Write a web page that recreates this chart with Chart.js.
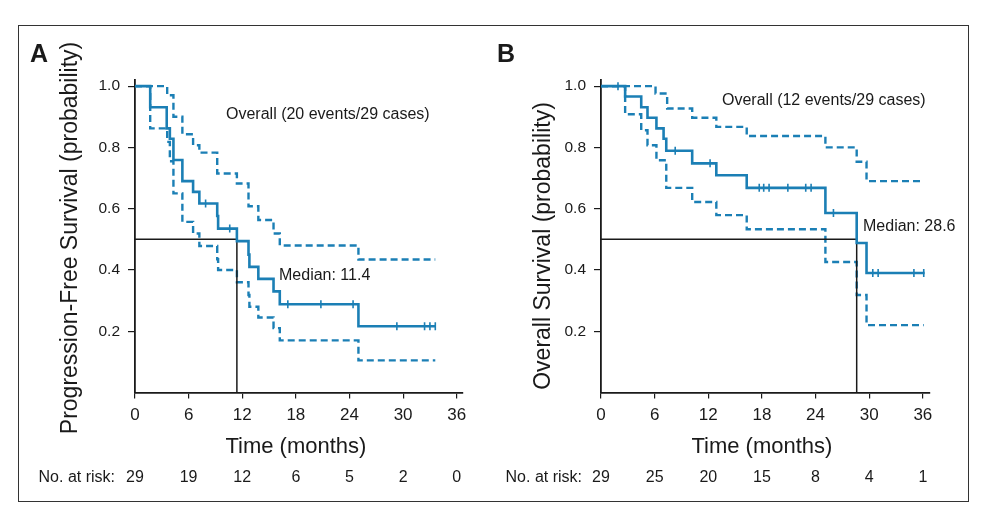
<!DOCTYPE html>
<html>
<head>
<meta charset="utf-8">
<script src="https://cdn.jsdelivr.net/npm/chart.js@4.4.1/dist/chart.umd.min.js"></script>
<style>
  html, body { margin: 0; padding: 0; background: #fff; }
  body { width: 993px; height: 521px; position: relative; overflow: hidden; }
  #frame { position: absolute; left: 18px; top: 25px; width: 951px; height: 477px; border: 1.5px solid #333; box-sizing: border-box; }
  canvas { position: absolute; top: 0; }
  #pfs { left: 0; }
  #os { left: 496px; }
</style>
</head>
<body>
<div id="frame"></div>
<canvas id="pfs" width="496" height="521"></canvas>
<canvas id="os" width="497" height="521"></canvas>
<script>
const blue = '#1b7fb5';
const ink = '#1a1a1a';
const sans = '"Liberation Sans", Arial, Helvetica, sans-serif';

const monthTicks = [0, 6, 12, 18, 24, 30, 36];
const probTicks = [0.2, 0.4, 0.6, 0.8, 1.0];

// Panel A - progression-free survival
const pfsTime = [0, 1.7, 3.55, 3.9, 4.3, 5.3, 6.5, 7.2, 9.2, 9.3, 11.4, 12.7, 12.8, 13.8, 15.5, 16.2, 25.0, 33.6];
const pfsSurv = [1, 0.931, 0.862, 0.828, 0.759, 0.690, 0.655, 0.617, 0.576, 0.535, 0.494, 0.450, 0.410, 0.371, 0.330, 0.288, 0.216, 0.216];
const pfsUpperTime = [0, 3.6, 4.3, 5.3, 6.5, 7.2, 9.2, 11.4, 12.7, 13.8, 15.5, 16.2, 25.0, 33.6];
const pfsUpper = [1, 0.97, 0.90, 0.843, 0.807, 0.783, 0.715, 0.682, 0.608, 0.563, 0.519, 0.48, 0.434, 0.434];
const pfsLowerTime = [0, 1.7, 3.6, 3.9, 4.3, 5.3, 6.5, 7.2, 9.2, 9.3, 11.4, 12.7, 12.8, 13.8, 15.5, 16.2, 25.0, 33.6];
const pfsLower = [1, 0.862, 0.818, 0.755, 0.65, 0.557, 0.519, 0.478, 0.435, 0.40, 0.36, 0.318, 0.28, 0.245, 0.21, 0.17, 0.105, 0.105];
const pfsCensored = [7.9, 10.6, 17.1, 20.8, 24.4, 29.3, 32.4, 33.0, 33.6];
const pfsMedian = 11.4;
const pfsAtRisk = [29, 19, 12, 6, 5, 2, 0];

// Panel B - overall survival
const osTime = [0, 2.7, 4.5, 5.2, 6.2, 7.0, 7.3, 10.2, 12.9, 16.3, 25.1, 28.6, 29.7, 36.2];
const osSurv = [1, 0.966, 0.931, 0.897, 0.862, 0.828, 0.789, 0.748, 0.709, 0.668, 0.586, 0.488, 0.390, 0.390];
const osUpperTime = [0, 6.1, 7.4, 10.2, 12.9, 16.3, 25.1, 28.6, 29.7, 36.1];
const osUpper = [1, 0.976, 0.927, 0.897, 0.867, 0.837, 0.80, 0.753, 0.69, 0.69];
const osLowerTime = [0, 2.7, 4.5, 5.2, 6.2, 7.3, 10.2, 12.9, 16.3, 25.1, 28.6, 29.7, 36.1];
const osLower = [1, 0.908, 0.856, 0.807, 0.758, 0.668, 0.622, 0.579, 0.533, 0.426, 0.318, 0.22, 0.22];
const osCensored = [1.9, 8.3, 12.2, 17.7, 18.2, 18.8, 20.9, 22.9, 23.5, 26.0, 30.4, 31.0, 35.0, 36.1];
const osMedian = 28.6;
const osAtRisk = [29, 25, 20, 15, 8, 4, 1];

const steps = (t, s) => t.map((v, i) => ({ x: v, y: s[i] }));
const survAt = (t, s, x) => {
  let y = s[0];
  t.forEach((v, i) => { if (v <= x) y = s[i]; });
  return y;
};

const panelText = {
  id: 'panelText',
  afterDraw(chart, args, o) {
    const ctx = chart.ctx;
    const xs = chart.scales.x;
    ctx.save();
    ctx.fillStyle = ink;
    ctx.textBaseline = 'alphabetic';

    ctx.font = 'bold 25px ' + sans;
    ctx.textAlign = 'left';
    ctx.fillText(o.letter, o.letterX, 62);

    ctx.save();
    ctx.translate(o.titleX, o.titleY);
    ctx.rotate(-Math.PI / 2);
    ctx.font = '23px ' + sans;
    ctx.textAlign = 'center';
    ctx.fillText(o.yTitle, 0, 0);
    ctx.restore();

    ctx.font = '16px ' + sans;
    ctx.textAlign = 'left';
    ctx.fillText(o.overall, o.overallX, o.overallY);
    ctx.fillText('Median: ' + o.median.toFixed(1), o.medianX, o.medianY);

    ctx.font = '22px ' + sans;
    ctx.textAlign = 'center';
    ctx.fillText('Time (months)', (xs.getPixelForValue(0) + xs.getPixelForValue(36)) / 2, 453);

    ctx.font = '16px ' + sans;
    ctx.textAlign = 'right';
    ctx.fillText('No. at risk:', o.riskX, 482);
    ctx.textAlign = 'center';
    o.atRisk.forEach((n, i) => ctx.fillText(String(n), xs.getPixelForValue(monthTicks[i]), 482));
    ctx.restore();
  }
};

function kmChart(id, d) {
  const canvas = document.getElementById(id);
  return new Chart(canvas, {
    type: 'line',
    data: {
      datasets: [
        { data: d.censored.map(t => ({ x: t, y: survAt(d.time, d.surv, t) })), showLine: false,
          pointStyle: 'line', rotation: 90, pointRadius: 4, pointBorderWidth: 1.6,
          pointBorderColor: blue, borderColor: blue, order: 0 },
        { data: steps(d.time, d.surv), stepped: true, borderColor: blue, borderWidth: 2.6, pointRadius: 0, order: 1 },
        { data: [{ x: 0, y: 0.5 }, { x: d.median, y: 0.5 }, { x: d.median, y: 0 }],
          borderColor: ink, borderWidth: 1.5, pointRadius: 0, order: 2 },
        { data: steps(d.upperTime, d.upper), stepped: true, borderColor: blue, borderWidth: 2.4,
          borderDash: [7, 4], pointRadius: 0, order: 3 },
        { data: steps(d.lowerTime, d.lower), stepped: true, borderColor: blue, borderWidth: 2.4,
          borderDash: [7, 4], pointRadius: 0, order: 3 }
      ]
    },
    options: {
      responsive: false,
      animation: false,
      devicePixelRatio: 1,
      layout: { padding: { top: 80, left: 0, bottom: 0, right: canvas.width - d.areaRight } },
      plugins: { legend: { display: false }, tooltip: { enabled: false }, panelText: d.text },
      scales: {
        x: {
          type: 'linear', min: 0, max: d.xMax,
          afterFit: s => { s.height = 521 - 392.5; },
          afterBuildTicks: s => { s.ticks = monthTicks.map(v => ({ value: v })); },
          grid: { drawOnChartArea: false, drawTicks: true, tickLength: 6, color: ink, lineWidth: 1.2 },
          border: { display: true, color: ink, width: 1.8 },
          ticks: { font: { family: sans, size: 17 }, color: ink, padding: 7, maxRotation: 0, autoSkip: false }
        },
        y: {
          min: 0, max: 1.02,
          afterFit: s => { s.width = d.areaLeft; },
          afterBuildTicks: s => { s.ticks = probTicks.map(v => ({ value: v })); },
          grid: { drawOnChartArea: false, drawTicks: true, tickLength: 7, color: ink, lineWidth: 1.2 },
          border: { display: true, color: ink, width: 1.8 },
          ticks: { font: { family: sans, size: 15.5 }, color: ink, padding: 8, callback: v => v.toFixed(1) }
        }
      }
    },
    plugins: [panelText]
  });
}

kmChart('pfs', {
  time: pfsTime, surv: pfsSurv, upperTime: pfsUpperTime, upper: pfsUpper,
  lowerTime: pfsLowerTime, lower: pfsLower, censored: pfsCensored, median: pfsMedian,
  areaLeft: 135, areaRight: 463, xMax: 36.7,
  text: { letter: 'A', letterX: 30, yTitle: 'Progression-Free Survival (probability)', titleX: 77, titleY: 238,
    overall: 'Overall (20 events/29 cases)', overallX: 226, overallY: 119,
    median: pfsMedian, medianX: 279, medianY: 280, riskX: 115, atRisk: pfsAtRisk }
});

kmChart('os', {
  time: osTime, surv: osSurv, upperTime: osUpperTime, upper: osUpper,
  lowerTime: osLowerTime, lower: osLower, censored: osCensored, median: osMedian,
  areaLeft: 105, areaRight: 434, xMax: 36.8,
  text: { letter: 'B', letterX: 1, yTitle: 'Overall Survival (probability)', titleX: 54, titleY: 246,
    overall: 'Overall (12 events/29 cases)', overallX: 226, overallY: 105,
    median: osMedian, medianX: 367, medianY: 231, riskX: 86, atRisk: osAtRisk }
});
</script>
</body>
</html>
